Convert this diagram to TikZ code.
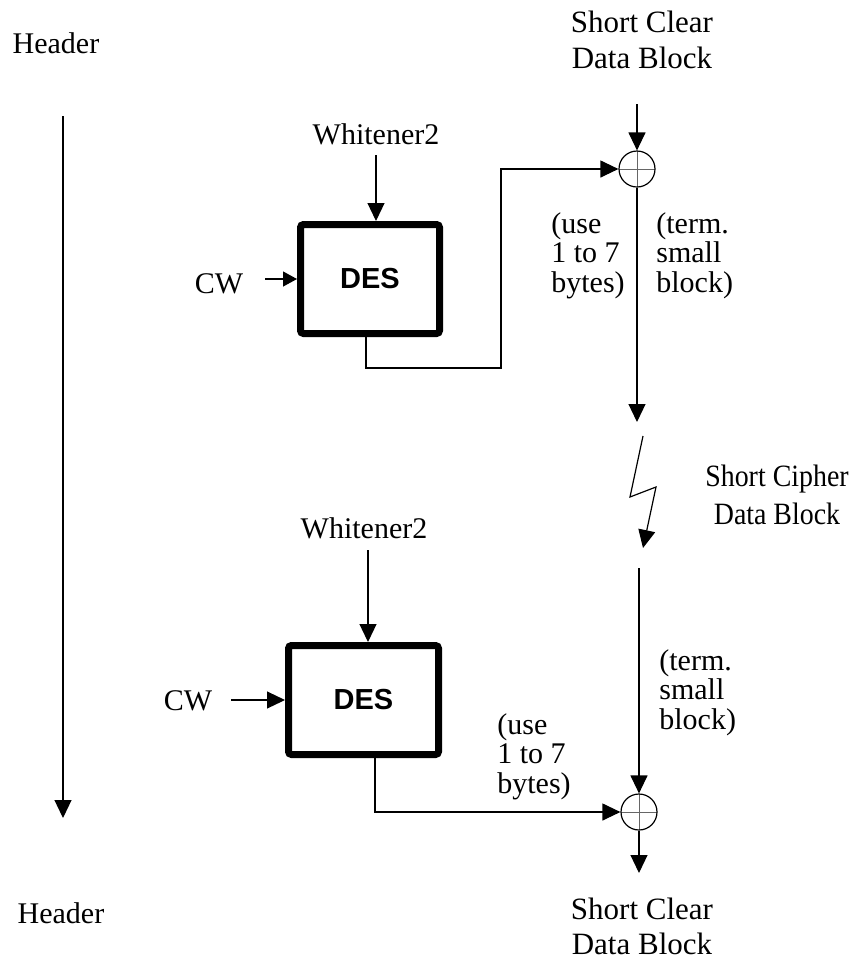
\documentclass[tikz,border=0pt]{standalone}
\usepackage{fontspec}
\setmainfont{Liberation Serif}
\newfontfamily\desfont{Liberation Sans}
\usetikzlibrary{arrows.meta}
\begin{document}
\begin{tikzpicture}[x=0.5pt,y=-0.5pt,
  lbl/.style={inner sep=0pt,font=\fontsize{15}{14.75}\selectfont},
  biglbl/.style={inner sep=0pt,align=center,font=\fontsize{15.5}{18}\selectfont},
  wire/.style={line width=0.6pt},
  arr/.style={wire,-{Triangle[length=9pt,width=8.5pt]}},
  sarr/.style={wire,-{Triangle[length=7pt,width=7.5pt]}},
  desbox/.style={draw,line width=3.5pt,rounded corners=1.5pt,minimum height=54.5pt,
    font=\desfont\bfseries\fontsize{14.5}{17}\selectfont},
  xorop/.style={draw,circle,line width=0.6pt,minimum size=18pt,inner sep=0pt,
    path picture={\draw[line width=0.5pt,black!60]
      (path picture bounding box.west) -- (path picture bounding box.east)
      (path picture bounding box.north) -- (path picture bounding box.south);}}]
\useasboundingbox (0,0) rectangle (852,960);

% texts
\node[lbl,anchor=base] (hdr1) at (56,53) {Header};
\node[lbl,anchor=base] (hdr2) at (61,923) {Header};
\node[biglbl,anchor=north] (scd1) at (642,11) {Short Clear\\Data Block};
\node[biglbl,anchor=north,font=\fontsize{15.5}{17.5}\selectfont] (scd2) at (642,898) {Short Clear\\Data Block};
\node[inner sep=0pt,align=center,anchor=north,font=\fontsize{15.5}{19}\selectfont] (scip) at (777,465)
  {\scalebox{0.9}[1]{Short Cipher}\\\scalebox{0.9}[1]{Data Block}};
\node[lbl,anchor=base] (wh1) at (376,144) {Whitener2};
\node[lbl,anchor=base] (wh2) at (364,538) {Whitener2};
\node[lbl,anchor=base] (cw1) at (219,293) {CW};
\node[lbl,anchor=base] (cw2) at (188,710) {CW};
\node[lbl,align=left,anchor=north west] (use1) at (551,212) {(use\\1 to 7\\bytes)};
\node[lbl,align=left,anchor=north west] (term1) at (656,212) {(term.\\small\\block)};
\node[lbl,align=left,anchor=north west] (use2) at (497,713) {(use\\1 to 7\\bytes)};
\node[lbl,align=left,anchor=north west] (term2) at (659,649) {(term.\\small\\block)};

% blocks
\node[desbox,minimum width=69.5pt] (des1) at (370,279) {DES};
\node[desbox,minimum width=75pt] (des2) at (363.5,700) {DES};
\node[xorop] (xor1) at (637,169) {};
\node[xorop] (xor2) at (639,812) {};

% coordinates
\coordinate (h1) at (63,116);
\coordinate (h2) at (63,818);
\coordinate (t1) at (637,104);
\coordinate (t2) at (637,422);
\coordinate (l1) at (643,436);
\coordinate (l2) at (630,497);
\coordinate (l3) at (656,487);
\coordinate (l4) at (643,548);
\coordinate (b1) at (639,568);
\coordinate (b2) at (639,873);
\coordinate (w1) at (376,155);
\coordinate (w2) at (368,550);
\coordinate (c1) at (265,279);
\coordinate (c2) at (231,700);
\coordinate (o1) at (501,368);

% connectors
\draw[arr] (h1) -- (h2);
\draw[arr] (t1) -- (xor1.north);
\draw[arr] (xor1.south) -- (t2);
\draw[arr] (l1) -- (l2) -- (l3) -- (l4);
\draw[arr] (b1) -- (xor2.north);
\draw[arr] (xor2.south) -- (b2);
\draw[arr] (w1) -- (w1 |- des1.north);
\draw[arr] (w2) -- (w2 |- des2.north);
\draw[sarr] (c1) -- (des1.west);
\draw[arr] (c2) -- (des2.west);
\draw[arr] ([xshift=-2pt]des1.south) |- (o1) |- (xor1.west);
\draw[arr] ([xshift=5.75pt]des2.south) |- (xor2.west);
\end{tikzpicture}
\end{document}
